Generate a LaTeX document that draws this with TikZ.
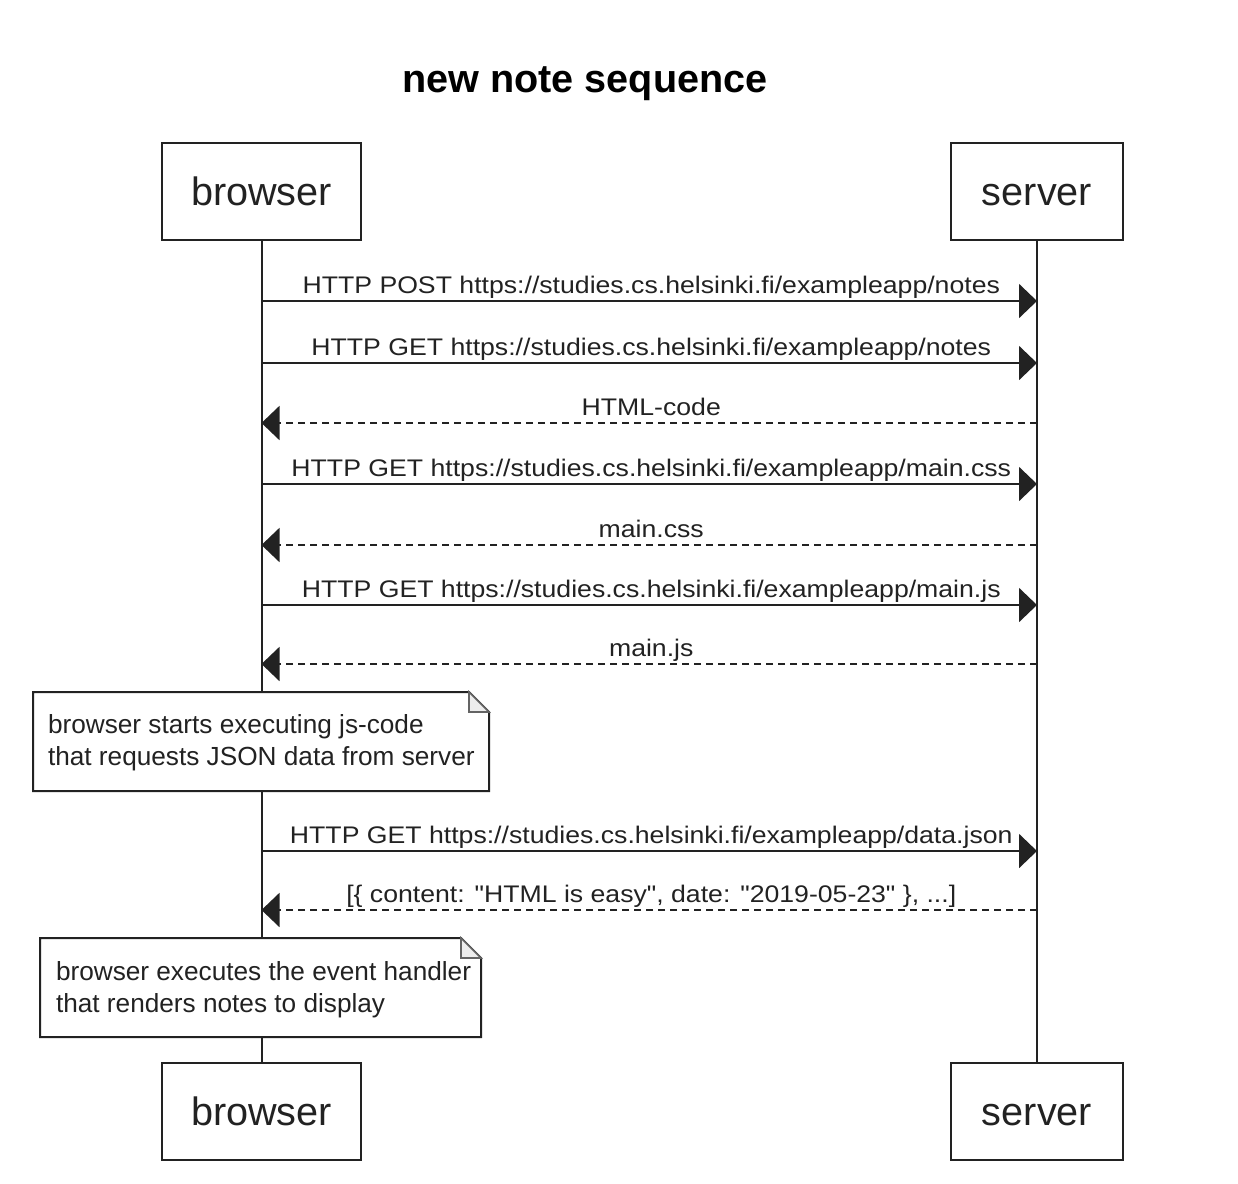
\documentclass[tikz,border=0pt]{standalone}
\usepackage{fontspec}
\setmainfont{Liberation Sans}[Ligatures=TeXOff]
\usetikzlibrary{arrows.meta}
\definecolor{ink}{HTML}{222222}
\begin{document}
\begin{tikzpicture}[x=0.5pt,y=-0.5pt,
  line width=1pt, draw=ink,
  part/.style={draw=ink, fill=white, minimum width=#1, minimum height=48.5pt, inner sep=0pt, text height=13.5pt, text depth=0pt, font=\fontsize{19.8}{22}\selectfont, text=ink},
  part/.default=99.5pt,
  msg/.style={draw=ink, -{Triangle[length=9pt,width=17pt]}},
  reply/.style={msg, dash pattern=on 3.5pt off 2.5pt},
  lbl/.style={midway, anchor=base, yshift=4pt, xshift=1pt, inner sep=0pt, font=\fontsize{12}{14}\selectfont, text=ink},
  notebg/.style={draw=none, minimum height=48.5pt, minimum width=#1, inner sep=0pt},
  noteline/.style={draw=ink, fill=white, line width=1pt},
  notetext/.style={anchor=base west, inner sep=0pt, font=\fontsize{13.1}{16}\selectfont, text=ink},
  title/.style={font=\fontsize{19.8}{22}\bfseries\selectfont, anchor=base}
]
\useasboundingbox (0,0) rectangle (1238,1184);

\node[title] (ttl) at (585,92) {new note sequence};

\node[part] (b1) at (261.5,191.5) {browser};
\node[part=86pt] (s1) at (1037,191.5) {server};
\node[part] (b2) at (261.5,1111.5) {browser};
\node[part=86pt] (s2) at (1037,1111.5) {server};

\draw (b1.south) -- (b2.north);
\draw (s1.south) -- (s2.north);

% message anchors
\foreach \n/\y in {1/301,2/363,3/423,4/484,5/545,6/605,7/664,8/851,9/910}{
  \coordinate (b\n) at (b1.south |- 0,\y);
  \coordinate (s\n) at (s1.south |- 0,\y);
}

\draw[msg] (b1) -- node[lbl] {\scalebox{1.11}[1]{HTTP POST https://studies.cs.helsinki.fi/exampleapp/notes}} (s1);
\draw[msg] (b2) -- node[lbl] {\scalebox{1.11}[1]{HTTP GET https://studies.cs.helsinki.fi/exampleapp/notes}} (s2);
\draw[reply] (s3) -- node[lbl] {\scalebox{1.11}[1]{HTML-code}} (b3);
\draw[msg] (b4) -- node[lbl] {\scalebox{1.11}[1]{HTTP GET https://studies.cs.helsinki.fi/exampleapp/main.css}} (s4);
\draw[reply] (s5) -- node[lbl] {\scalebox{1.11}[1]{main.css}} (b5);
\draw[msg] (b6) -- node[lbl] {\scalebox{1.11}[1]{HTTP GET https://studies.cs.helsinki.fi/exampleapp/main.js}} (s6);
\draw[reply] (s7) -- node[lbl] {\scalebox{1.11}[1]{main.js}} (b7);
\draw[msg] (b8) -- node[lbl] {\scalebox{1.11}[1]{HTTP GET https://studies.cs.helsinki.fi/exampleapp/data.json}} (s8);
\draw[reply] (s9) -- node[lbl] {\scalebox{1.11}[1]{[\{ content: "HTML is easy", date: "2019-05-23" \}, ...]}} (b9);

% note 1
\node[notebg=227pt] (n1) at (261,741.5) {};
\draw[noteline] (n1.north west) -- ([xshift=-10pt]n1.north east) -- ([yshift=-10pt]n1.north east) -- (n1.south east) -- (n1.south west) -- cycle;
\draw[line width=0.8pt, draw=ink!70, fill=ink!8] ([xshift=-10pt]n1.north east) -- ([xshift=-10pt,yshift=-10pt]n1.north east) -- ([yshift=-10pt]n1.north east) -- cycle;
\node[notetext] (n1a) at (47,733) {browser starts executing js-code};
\node[notetext] (n1b) at (47,765) {that requests JSON data from server};

% note 2
\node[notebg=219.5pt] (n2) at (260.5,987.5) {};
\draw[noteline] (n2.north west) -- ([xshift=-10pt]n2.north east) -- ([yshift=-10pt]n2.north east) -- (n2.south east) -- (n2.south west) -- cycle;
\draw[line width=0.8pt, draw=ink!70, fill=ink!8] ([xshift=-10pt]n2.north east) -- ([xshift=-10pt,yshift=-10pt]n2.north east) -- ([yshift=-10pt]n2.north east) -- cycle;
\node[notetext] (n2a) at (55,980) {browser executes the event handler};
\node[notetext] (n2b) at (55,1012) {that renders notes to display};
\end{tikzpicture}
\end{document}
